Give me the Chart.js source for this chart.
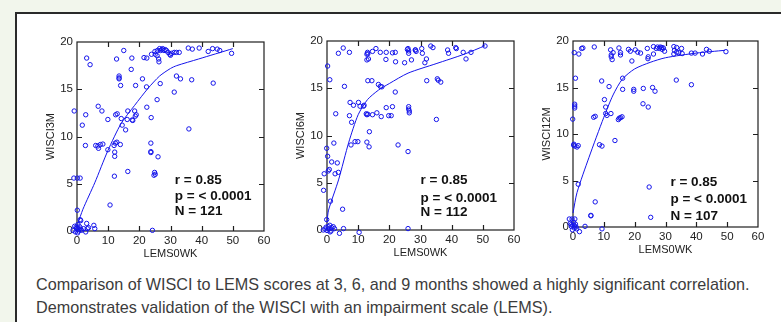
<!DOCTYPE html>
<html>
<head>
<meta charset="utf-8">
<script src="https://cdn.jsdelivr.net/npm/chart.js@4"></script>
<style>
  html, body { margin: 0; padding: 0; }
  body { width: 781px; height: 322px; background: #f2f6ec; position: relative; overflow: hidden; }
  .panel { position: absolute; left: 15px; top: 12px; width: 800px; height: 330px; background: #fff; border: 2px solid #2a2a2a; }
  canvas { position: absolute; }
  .caption { position: absolute; left: 36px; top: 273px; font-family: "Liberation Sans", Arial, sans-serif; font-size: 16.2px; line-height: 23px; color: #3c3c3c; white-space: nowrap; }
</style>
</head>
<body>
<div class="panel"></div>
<canvas id="c3" width="235" height="235" style="left:40px;top:30px;width:235px;height:235px"></canvas>
<canvas id="c6" width="235" height="235" style="left:290px;top:29px;width:235px;height:235px"></canvas>
<canvas id="c12" width="233" height="232" style="left:536px;top:29px;width:233px;height:232px"></canvas>
<div class="caption">Comparison of WISCI to LEMS scores at 3, 6, and 9 months showed a highly significant correlation.<br>Demonstrates validation of the WISCI with an impairment scale (LEMS).</div>
<script>
// LEMS at week 0 vs WISCI at 3 months
const lems3 = [3.1,4.2,15.0,12.7,17.6,17.4,13.5,13.5,13.5,14.0,18.8,21.0,21.5,22.4,22.3,25.0,25.7,26.3,26.5,27.5,28.3,26.7,25.7,22.4,23.8,
  -0.9,2.8,1.7,6.8,8.0,9.9,12.4,12.9,14.2,14.5,15.6,16.3,16.1,17.7,17.9,18.5,19.0,18.7,
  2.7,6.0,6.7,6.9,7.5,8.3,9.9,11.9,12.3,12.8,13.9,12.1,12.1,23.7,23.7,23.7,26.0,
  -1.0,0.1,1.0,12.0,16.3,24.9,25.1,24.7,10.6,0.1,1.0,1.2,3.1,5.4,5.7,24.2,
  -1.3,-0.75,-0.2,0.1,0.3,0.85,1.2,1.4,2.1,2.8,3.3,3.7,-0.5,0.5,-0.3,0.6,0.2,
  23.9,25.1,25.8,26.2,26.8,27.2,27.9,28.7,29.2,29.8,30.3,31.2,31.9,32.8,30.0,35.7,37.0,39.2,42.1,43.5,45.0,45.8,49.6,
  31.9,33.2,36.8,31.2,43.7,35.9];
const wisci3 = [18.3,17.6,19.1,18.2,18.3,17.1,16.4,16.2,16.1,15.4,15.4,16.1,18.35,18.3,15.25,19.0,18.55,17.9,19.3,19.3,19.2,15.6,13.9,13.1,12.0,
  12.7,12.3,11.2,13.2,12.7,11.8,12.3,12.4,11.9,11.2,10.7,12.7,11.8,11.75,11.7,12.7,12.3,12.15,
  9.05,9.05,9.0,8.75,9.15,9.2,8.6,9.05,9.3,9.4,9.15,8.35,7.9,9.3,8.4,8.3,7.85,
  5.6,5.6,5.6,5.8,6.3,6.2,6.0,5.9,2.75,2.2,1.2,1.1,0.8,0.6,0.25,0.07,
  0.07,0.5,0.25,0.35,0.7,0.45,0.2,0.07,0.25,-0.1,0.25,0.35,-0.1,0.0,0.4,0.2,-0.2,
  18.7,18.7,19.1,18.2,19.1,19.2,19.1,19.1,18.9,18.7,18.8,18.9,18.9,18.9,18.6,19.36,19.25,19.36,19.0,19.3,19.25,19.1,18.8,
  16.4,16.1,16.0,14.7,15.65,10.8];
const fitX3 = [0, 0.3, 1.9, 5.7, 9.9, 14.2, 18.5, 22.8, 26.5, 30, 32, 39, 50];
const fitY3 = [0.5, 0.8, 2.3, 5.1, 8.5, 11.4, 13.3, 15.1, 16.4, 17.2, 17.5, 18.2, 19.3];

// LEMS at week 0 vs WISCI at 6 months
const lems6 = [0.2,0.9,5.2,3.65,7.2,5.6,12.8,13.0,13.1,12.8,13.3,14.6,15.7,17.1,19.0,18.9,21.0,21.9,22.0,24.9,25.8,26.0,26.2,26.2,27.1,28.3,
  13.1,14.4,16.5,17.1,17.6,21.9,7.4,8.5,10.1,10.6,11.7,11.9,7.2,7.9,2.8,12.6,12.8,13.1,14.6,16.0,17.4,19.0,19.8,20.6,21.0,26.2,26.2,26.4,26.4,
  22.8,26.0,13.6,12.8,13.5,7.7,9.0,9.9,2.2,-0.1,0.2,1.5,3.3,0.75,0.4,2.6,3.65,-0.9,-1.1,1.1,5.0,-0.1,
  -1.2,-0.6,0.4,0.9,1.5,2.0,0,1.3,2.4,4.0,5.3,10.3,26.0,0.6,-0.3,1.0,
  28.4,28.6,30.4,30.6,31.4,31.9,33.3,34.0,38.7,39.0,41.3,41.5,43.7,44.6,46.2,50.7,32.0,35.4,35.7,36.5,35.1];
const wisci6 = [17.35,15.9,19.26,18.7,18.8,15.2,18.6,18.8,18.65,18.0,18.1,18.9,19.2,18.8,18.8,18.05,18.75,18.8,17.8,17.7,19.1,19.2,18.95,18.7,18.0,19.05,
  15.8,15.8,15.4,15.2,15.15,14.6,13.5,13.2,13.5,13.1,13.1,13.2,12.1,11.4,12.3,12.3,12.2,12.25,12.2,12.4,12.0,12.95,12.1,12.1,13.05,13.05,12.8,12.6,12.4,
  9.0,8.3,10.4,9.3,8.8,9.0,9.35,9.35,9.2,8.65,7.8,7.2,7.1,6.4,6.25,5.95,6.1,5.95,4.2,3.05,2.2,1.1,
  0,0.1,0.35,0.5,0.25,0.35,-0.05,-0.1,0.15,-0.35,0.15,-0.25,0.15,0.1,0.3,-0.2,
  19.05,18.9,19.2,18.7,17.7,18.1,19.47,19.3,19.05,18.7,19.3,19.2,18.8,18.1,18.8,19.47,15.8,16.0,15.85,15.65,11.7];
const fitX6 = [0, 0.5, 3.7, 7, 10, 13, 16.5, 20, 26, 35, 44, 50.7];
const fitY6 = [0.8, 2.1, 5.3, 9.3, 12.2, 13.8, 14.8, 15.5, 16.6, 17.6, 18.6, 19.5];

// LEMS at week 0 vs WISCI at 12 months
const lems12 = [0.4,1.9,2.8,3.2,6.9,0.8,0.55,0.55,0.55,-0.1,0.3,0.6,1.3,0.2,1.7,1.7,7.2,5.8,5.8,3.9,2.1,9.4,
  12.2,13.0,12.4,12.7,12.4,14.9,15.4,15.4,18.0,18.6,19.1,20.2,21.0,21.9,24.1,24.4,24.3,26.1,26.1,27.4,28.3,28.8,27.0,28.0,29.3,
  16.1,16.1,11.7,9.3,10.2,10.6,10.6,11.0,12.3,6.7,7.2,14.7,15.0,15.4,15.9,13.6,8.6,9.4,19.7,19.7,22.8,22.7,24.4,25.8,26.6,24.7,25.2,
  -1.2,-0.3,0.6,-0.9,-0.5,0,0.4,0.8,-0.2,1.0,0.2,-0.6,0.5,1.2,
  28.9,29.7,32.7,33.6,35.2,32.9,33.6,32.7,34.3,35.4,38.4,39.6,42.0,43.3,44.2,49.6,33.5,38.4];
const wisci12 = [18.75,18.6,19.2,19.25,19.36,16.0,13.2,13.0,12.8,11.6,8.9,8.7,8.6,8.8,8.75,4.6,2.7,1.2,1.25,0.07,-0.5,-0.2,
  19.05,18.75,18.3,18.0,18.5,19.25,18.75,18.5,19.1,18.9,17.85,19.05,18.8,18.7,19.2,18.3,18.1,19.4,18.6,19.35,19.35,19.3,19.2,19.2,19.25,
  16.0,14.8,15.1,15.7,13.7,12.9,12.2,12.0,12.2,11.8,11.9,11.55,11.7,11.75,11.85,9.3,8.85,8.7,14.8,14.6,14.9,13.25,12.9,15.0,14.6,4.3,1.04,
  0.86,0.86,0.86,0.4,0.05,0.2,-0.1,0.3,-0.3,0.0,0.5,0.25,0.1,-0.2,
  19.1,18.9,19.4,19.3,19.2,19.0,18.8,18.6,18.75,18.65,18.7,18.7,18.6,19.1,18.9,18.85,15.8,15.3];
const fitX12 = [0, 1.3, 5.2, 10, 13, 16, 20, 25, 30, 40, 49.3];
const fitY12 = [1.5, 3.7, 7.5, 11.8, 14.2, 15.9, 17.0, 17.7, 18.2, 18.7, 19.0];

const xTicks = [0, 10, 20, 30, 40, 50, 60];
const yTicks = [0, 5, 10, 15, 20];

const blue = "rgb(20,20,235)";
Chart.defaults.font.family = "'Liberation Sans', Arial, sans-serif";
Chart.defaults.color = "#222";

const pairs = (xs, ys) => xs.map((x, i) => ({ x, y: ys[i] }));

// frame with small inward ticks on all four sides
const frameTicks = {
  id: "frameTicks",
  beforeDatasetsDraw(chart) {
    const { ctx, chartArea: a, scales: { x, y } } = chart;
    ctx.save();
    ctx.strokeStyle = "#1e1e1e";
    ctx.lineWidth = 1.2;
    ctx.strokeRect(a.left, a.top, a.right - a.left, a.bottom - a.top);
    ctx.beginPath();
    xTicks.slice(1, -1).forEach(v => {
      const px = Math.round(x.getPixelForValue(v)) + 0.5;
      ctx.moveTo(px, a.bottom); ctx.lineTo(px, a.bottom - 5);
      ctx.moveTo(px, a.top); ctx.lineTo(px, a.top + 5);
    });
    yTicks.slice(1, -1).forEach(v => {
      const py = Math.round(y.getPixelForValue(v)) + 0.5;
      ctx.moveTo(a.left, py); ctx.lineTo(a.left + 5, py);
      ctx.moveTo(a.right, py); ctx.lineTo(a.right - 5, py);
    });
    ctx.stroke();
    ctx.restore();
  }
};

// r / p / N text block
const statText = {
  id: "statText",
  afterDatasetsDraw(chart, args, opts) {
    const { ctx, scales: { x, y } } = chart;
    ctx.save();
    ctx.font = "bold 13.5px 'Liberation Sans', Arial, sans-serif";
    ctx.fillStyle = "#111";
    ctx.textBaseline = "middle";
    opts.lines.forEach((t, i) => {
      ctx.fillText(t, x.getPixelForValue(opts.x), y.getPixelForValue(opts.y[i]));
    });
    ctx.restore();
  }
};

function makeChart(id, xs, ys, fx, fy, yTitle, n, pos) {
  new Chart(document.getElementById(id), {
    type: "scatter",
    data: {
      datasets: [
        {
          type: "line",
          data: pairs(fx, fy),
          borderColor: blue,
          borderWidth: 1,
          pointRadius: 0,
          tension: 0.25,
          fill: false,
          clip: false
        },
        {
          data: pairs(xs, ys),
          pointStyle: "circle",
          pointRadius: 2.2,
          pointBorderWidth: 1,
          pointBorderColor: blue,
          pointBackgroundColor: "rgba(0,0,0,0)",
          clip: false
        }
      ]
    },
    options: {
      responsive: false,
      animation: false,
      layout: { padding: { top: 12, right: 11, left: 0, bottom: 0 } },
      plugins: {
        legend: { display: false },
        tooltip: { enabled: false },
        statText: { lines: ["r = 0.85", "p = < 0.0001", "N = " + n], x: pos.x, y: pos.y }
      },
      scales: {
        x: {
          type: "linear", min: 0, max: 60,
          afterBuildTicks: s => { s.ticks = xTicks.map(v => ({ value: v })); },
          ticks: { padding: 3, font: { size: 11.5 }, color: "#222" },
          grid: { display: false, drawTicks: false },
          border: { display: false },
          title: { display: true, text: "LEMS0WK", font: { size: 11 }, color: "#222", padding: { top: 0, bottom: 4 } },
          afterFit: s => { s.height = 34; }
        },
        y: {
          type: "linear", min: 0, max: 20,
          afterBuildTicks: s => { s.ticks = yTicks.map(v => ({ value: v })); },
          ticks: { padding: 4, font: { size: 11.5 }, color: "#222" },
          grid: { display: false, drawTicks: false },
          border: { display: false },
          title: { display: true, text: yTitle, font: { size: 11 }, color: "#222" },
          afterFit: s => { s.width = 37; }
        }
      }
    },
    plugins: [frameTicks, statText]
  });
}

makeChart("c3", lems3, wisci3, fitX3, fitY3, "WISCI3M", 121, { x: 31.4, y: [5.4, 3.7, 2.1] });
makeChart("c6", lems6, wisci6, fitX6, fitY6, "WISCI6M", 112, { x: 30.0, y: [5.3, 3.4, 1.85] });
makeChart("c12", lems12, wisci12, fitX12, fitY12, "WISCI12M", 107, { x: 31.6, y: [4.8, 2.95, 1.2] });
</script>
</body>
</html>
